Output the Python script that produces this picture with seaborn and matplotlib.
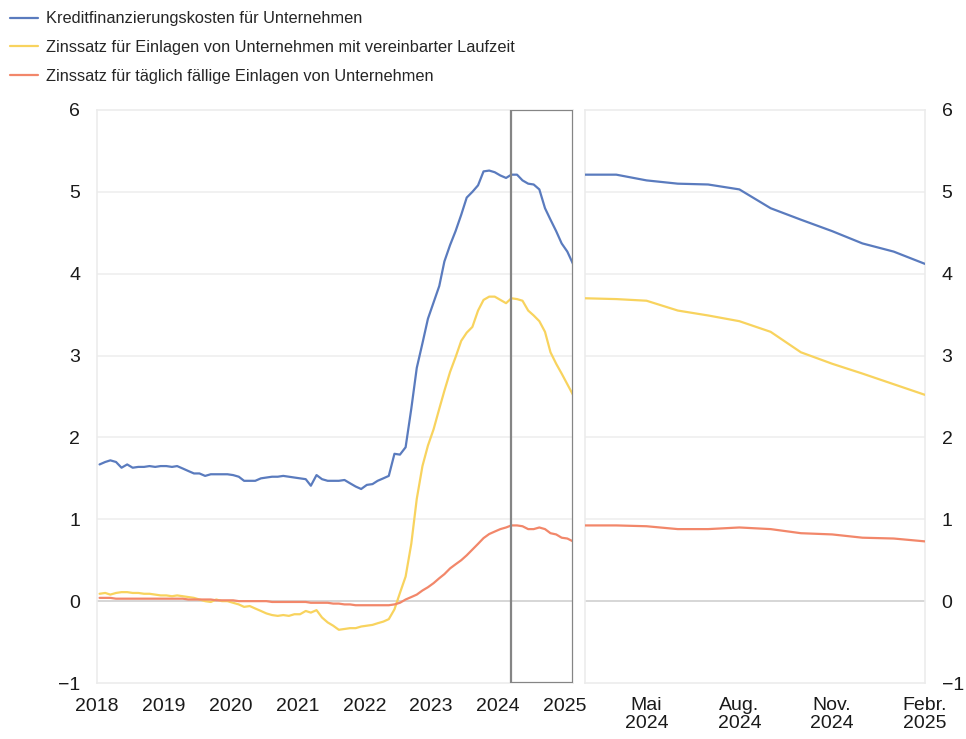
import matplotlib
matplotlib.use("Agg")
import matplotlib.pyplot as plt
from matplotlib.lines import Line2D
import seaborn as sns
import pandas as pd

# ---- data (monthly, Jan 2018 - Feb 2025) ----
series_names = [
    "Kreditfinanzierungskosten für Unternehmen",
    "Zinssatz für Einlagen von Unternehmen mit vereinbarter Laufzeit",
    "Zinssatz für täglich fällige Einlagen von Unternehmen",
]
colors = ["#5A7BBE", "#F8D35E", "#F2876A"]

kredit = [
    1.67, 1.70, 1.72, 1.70, 1.63, 1.67, 1.63, 1.64, 1.64, 1.65, 1.64, 1.65,
    1.65, 1.64, 1.65, 1.62, 1.59, 1.56, 1.56, 1.53, 1.55, 1.55, 1.55, 1.55,
    1.54, 1.52, 1.47, 1.47, 1.47, 1.50, 1.51, 1.52, 1.52, 1.53, 1.52, 1.51,
    1.50, 1.49, 1.41, 1.54, 1.49, 1.47, 1.47, 1.47, 1.48, 1.44, 1.40, 1.37,
    1.42, 1.43, 1.47, 1.50, 1.53, 1.80, 1.79, 1.88, 2.35, 2.85, 3.15, 3.45,
    3.65, 3.85, 4.15, 4.35, 4.52, 4.72, 4.93, 5.00, 5.08, 5.25, 5.26, 5.24,
    5.20, 5.17,
    5.21, 5.21, 5.14, 5.10, 5.09, 5.03, 4.80, 4.66, 4.52, 4.37, 4.27, 4.12,
]
laufzeit = [
    0.09, 0.10, 0.08, 0.10, 0.11, 0.11, 0.10, 0.10, 0.09, 0.09, 0.08, 0.07,
    0.07, 0.06, 0.07, 0.06, 0.05, 0.04, 0.02, 0.00, -0.01, 0.02, 0.00, 0.00,
    -0.02, -0.04, -0.07, -0.06, -0.09, -0.12, -0.15, -0.17, -0.18, -0.17, -0.18, -0.16,
    -0.16, -0.12, -0.14, -0.11, -0.20, -0.26, -0.30, -0.35, -0.34, -0.33, -0.33, -0.31,
    -0.30, -0.29, -0.27, -0.25, -0.22, -0.10, 0.10, 0.30, 0.70, 1.25, 1.65, 1.90,
    2.10, 2.35, 2.57, 2.80, 2.98, 3.18, 3.28, 3.35, 3.55, 3.68, 3.72, 3.72,
    3.68, 3.64,
    3.70, 3.69, 3.67, 3.55, 3.49, 3.42, 3.29, 3.04, 2.90, 2.78, 2.65, 2.52,
]
taeglich = [
    0.04, 0.04, 0.04, 0.03, 0.03, 0.03, 0.03, 0.03, 0.03, 0.03, 0.03, 0.03,
    0.03, 0.03, 0.03, 0.03, 0.02, 0.02, 0.02, 0.02, 0.02, 0.01, 0.01, 0.01,
    0.01, 0.00, 0.00, 0.00, 0.00, 0.00, 0.00, -0.01, -0.01, -0.01, -0.01, -0.01,
    -0.01, -0.01, -0.02, -0.02, -0.02, -0.02, -0.03, -0.03, -0.04, -0.04, -0.05, -0.05,
    -0.05, -0.05, -0.05, -0.05, -0.05, -0.04, -0.02, 0.02, 0.05, 0.08, 0.13, 0.17,
    0.22, 0.28, 0.33, 0.40, 0.45, 0.50, 0.56, 0.63, 0.70, 0.77, 0.82, 0.85,
    0.88, 0.90,
    0.925, 0.925, 0.915, 0.88, 0.88, 0.90, 0.88, 0.83, 0.815, 0.775, 0.765, 0.73,
]
dates = pd.date_range("2018-01-01", periods=len(kredit), freq="MS") + pd.Timedelta(days=14)

left_tick_years = [2018, 2019, 2020, 2021, 2022, 2023, 2024, 2025]
right_tick_labels = ["Mai\n2024", "Aug.\n2024", "Nov.\n2024", "Febr.\n2025"]
right_tick_idx = [76, 79, 82, 85]
zoom_start = 74  # März 2024
y_ticks = [-1, 0, 1, 2, 3, 4, 5, 6]

df = pd.concat([
    pd.DataFrame({"date": dates, "value": v, "series": n})
    for v, n in zip([kredit, laufzeit, taeglich], series_names)
])
df_zoom = df[df["date"] >= dates[zoom_start]]

sns.set_theme(style="white")
plt.rcParams["font.family"] = ["Liberation Sans", "DejaVu Sans"]

fig = plt.figure(figsize=(9.66, 7.39), dpi=100)
axL = fig.add_axes([97 / 966, 56 / 739, 476 / 966, 573 / 739])
axR = fig.add_axes([585 / 966, 56 / 739, 340 / 966, 573 / 739])

pal = dict(zip(series_names, colors))
for ax, d in [(axL, df), (axR, df_zoom)]:
    sns.lineplot(data=d, x="date", y="value", hue="series", palette=pal,
                 hue_order=series_names, linewidth=1.6, legend=False, ax=ax,
                 zorder=3)
    ax.set_ylim(-1, 6)
    ax.set_yticks(y_ticks)
    ax.set_xlabel("")
    ax.set_ylabel("")
    for yv in y_ticks:
        if yv == 0:
            ax.axhline(yv, color="#cfcfcf", lw=1.2, zorder=1)
        elif yv != -1 and yv != 6:
            ax.axhline(yv, color="#efefef", lw=1.2, zorder=1)
    for s in ax.spines.values():
        s.set_color("#ececec")
        s.set_linewidth(1.2)
    ax.tick_params(length=0, labelsize=14, colors="#1a1a1a")

ylabels = [str(v).replace("-", "\u2212") for v in y_ticks]

axL.set_xlim(pd.Timestamp("2018-01-01"), dates[-1])
axL.set_xticks([pd.Timestamp(f"{y}-01-01") for y in left_tick_years])
axL.set_xticklabels([str(y) for y in left_tick_years])
axL.set_yticklabels(ylabels)
axL.tick_params(axis="y", pad=12)
axL.tick_params(axis="x", pad=11)
axL.axvspan(dates[zoom_start], dates[-1], ymin=0, ymax=1, fill=False,
            edgecolor="#858585", linewidth=1.6, zorder=4)

axR.set_xlim(dates[zoom_start], dates[-1])
axR.set_xticks([dates[i] for i in right_tick_idx])
axR.set_xticklabels(right_tick_labels, linespacing=1.1)
axR.yaxis.tick_right()
axR.set_yticklabels(ylabels)
axR.tick_params(axis="y", pad=12, labelright=True, labelleft=False)
axR.tick_params(axis="x", pad=10)

handles = [Line2D([0], [0], color=c, lw=1.6) for c in colors]
fig.legend(handles, series_names, loc="upper left", bbox_to_anchor=(-0.002, 1.0),
           frameon=False, prop={"family": ["Liberation Sans"], "size": 11.8},
           handlelength=1.75, handletextpad=0.45,
           labelspacing=0.83, borderaxespad=0.3)

fig.savefig("out.png", dpi=100)
